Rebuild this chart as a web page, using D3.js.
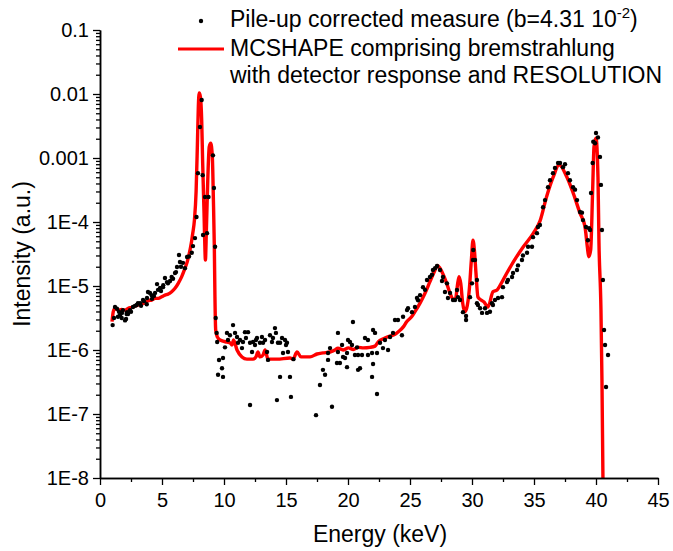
<!DOCTYPE html>
<html>
<head>
<meta charset="utf-8">
<script src="https://cdn.jsdelivr.net/npm/d3@7"></script>
<style>
  body { margin: 0; background: #fff; }
  text { font-family: "Liberation Sans", Arial, sans-serif; fill: #000; }
</style>
</head>
<body>
<div id="chart"></div>
<script>
// axis ticks
const xTicks = [0, 5, 10, 15, 20, 25, 30, 35, 40, 45];
const xMinor = [2.5, 7.5, 12.5, 17.5, 22.5, 27.5, 32.5, 37.5, 42.5];
const yTicks = [1e-1, 1e-2, 1e-3, 1e-4, 1e-5, 1e-6, 1e-7, 1e-8];
const yTickLabels = ["0.1", "0.01", "0.001", "1E-4", "1E-5", "1E-6", "1E-7", "1E-8"];

// MCSHAPE simulation [energy keV, intensity]
const simulated = [
  [0.97,2.77e-6],[1.07,3.97e-6],[1.21,4.5e-6],[1.48,4.2e-6],[1.75,4.3e-6],[2.02,4.2e-6],
  [2.28,4.5e-6],[2.56,4.65e-6],[2.82,4.87e-6],[3.09,5.05e-6],[3.36,5.23e-6],[3.63,5.5e-6],
  [3.9,5.9e-6],[4.17,6.04e-6],[4.44,6.4e-6],[4.7,6.4e-6],[4.98,6.8e-6],[5.24,7.2e-6],
  [5.51,7.5e-6],[5.78,8.15e-6],[6.05,9.2e-6],[6.31,1.1e-5],[6.59,1.4e-5],[6.85,1.89e-5],
  [7.04,2.4e-5],[7.2,3.24e-5],[7.31,4.1e-5],[7.4,5.2e-5],[7.48,6.65e-5],[7.62,1.1e-4],
  [7.75,3e-4],[7.85,1.49e-3],[7.93,6.3e-3],[8.0,1.04e-2],[8.1,9e-3],[8.2,3.9e-3],
  [8.28,8.35e-4],[8.39,1.38e-4],[8.47,3.3e-5],[8.5,2.55e-5],[8.58,7.5e-5],[8.69,4.5e-4],
  [8.81,1.49e-3],[8.93,1.7e-3],[9.06,1.04e-3],[9.14,2.46e-4],[9.22,4.1e-5],[9.27,6.7e-6],
  [9.33,2.05e-6],[9.46,1.6e-6],[9.68,1.43e-6],[10.24,1.33e-6],[10.48,1.3e-6],[10.65,1.2e-6],
  [10.77,1.43e-6],[11.05,1.0e-6],[11.45,7.8e-7],[11.85,7.2e-7],[12.34,7.2e-7],[12.58,7.8e-7],
  [12.74,9.3e-7],[12.9,7.8e-7],[13.15,8.35e-7],[13.31,1.0e-6],[13.55,7.2e-7],[14.27,7.2e-7],
  [15.32,7.5e-7],[15.56,7.2e-7],[15.89,9.3e-7],[16.21,7.8e-7],[16.94,7.8e-7],[17.5,8.66e-7],
  [17.98,9e-7],[18.55,9.3e-7],[18.95,1.0e-6],[19.19,1.07e-6],[19.6,1.0e-6],[20.03,1.08e-6],
  [20.43,1.02e-6],[20.83,1.1e-6],[21.24,1.08e-6],[21.77,1.1e-6],[22.18,1.15e-6],[22.45,1.35e-6],
  [22.85,1.5e-6],[23.39,1.65e-6],[23.79,1.76e-6],[24.06,1.93e-6],[24.46,2.3e-6],[24.73,2.77e-6],
  [25.13,3.3e-6],[25.4,3.97e-6],[25.81,5.4e-6],[26.21,7.7e-6],[26.61,1.17e-5],[27.02,1.78e-5],
  [27.2,2.1e-5],[27.42,1.89e-5],[27.69,1.49e-5],[27.96,1.1e-5],[28.23,7.7e-6],[28.49,6.2e-6],
  [28.68,6.4e-6],[28.81,9.75e-6],[28.95,1.4e-5],[29.09,1.1e-5],[29.25,5.4e-6],[29.41,3.97e-6],
  [29.57,4.5e-6],[29.78,8.7e-6],[29.95,2.55e-5],[30.08,5.2e-5],[30.2,3.5e-5],[30.32,1.6e-5],
  [30.48,6.7e-6],[30.73,6.04e-6],[30.97,5.6e-6],[31.29,4.7e-6],[31.69,8.1e-6],[32.02,8.66e-6],
  [32.3,1.05e-5],[32.8,1.58e-5],[33.6,2.87e-5],[34.14,4.1e-5],[34.94,6.65e-5],[35.48,1.03e-4],
  [36.02,2.5e-4],[36.56,5.1e-4],[37.02,7.8e-4],[37.64,5.1e-4],[38.17,2.8e-4],[38.71,1.37e-4],
  [39.11,8.45e-5],[39.3,4.1e-5],[39.41,2.87e-5],[39.57,3.65e-5],[39.73,3.16e-4],[39.84,1.5e-3],
  [40.0,2.05e-3],[40.16,5e-4],[40.24,4.7e-5],[40.4,4.2e-6],[40.48,3.4e-7],[40.56,1e-8],[40.62,1e-9]
];

// pile-up corrected measure [energy keV, intensity]
const measured = [
  [1.02,2.45e-6],[1.13,3.16e-6],[1.21,4.7e-6],[1.37,4.4e-6],[1.45,3.3e-6],[1.53,3.97e-6],
  [1.61,3.5e-6],[1.75,3.16e-6],[1.77,3.8e-6],[1.85,4.2e-6],[2.02,2.9e-6],[2.1,3.05e-6],
  [2.15,3.65e-6],[2.18,3.9e-6],[2.26,3.65e-6],[2.42,4.2e-6],[2.5,3.97e-6],[2.66,4.7e-6],
  [2.82,4.9e-6],[2.96,5.05e-6],[3.06,5.4e-6],[3.23,5.4e-6],[3.31,4.9e-6],[3.47,6.04e-6],
  [3.55,5.8e-6],[3.77,5.2e-6],[3.79,6.5e-6],[3.87,8.06e-6],[4.03,7.8e-6],[4.17,7.2e-6],
  [4.19,6.3e-6],[4.35,7e-6],[4.44,7.8e-6],[4.6,1.07e-5],[4.68,8.7e-6],[4.84,9.3e-6],
  [4.92,8.35e-6],[5.08,9.6e-6],[5.1,1.03e-5],[5.24,1.33e-5],[5.4,1.15e-5],[5.48,1.1e-5],
  [5.65,1.2e-5],[5.78,1.38e-5],[5.89,1.3e-5],[6.05,1.6e-5],[6.13,1.65e-5],[6.21,1.98e-5],
  [6.37,3.05e-5],[6.45,2.37e-5],[6.53,2e-5],[6.69,2.3e-5],[6.85,1.9e-5],[7.02,2.84e-5],
  [7.18,2.9e-5],[7.4,3.3e-5],[7.5,4.2e-5],[7.66,5.6e-5],[7.78,1.2e-4],[7.9,5.8e-4],
  [8.06,3.05e-3],[8.2,8.06e-3],[8.28,5.4e-4],[8.31,6.25e-5],[8.47,2.46e-4],[8.63,6.7e-5],
  [8.75,2.46e-4],[9.11,1.1e-3],[9.19,3.4e-4],[9.28,4.1e-5],[9.33,3.16e-6],[9.41,1.85e-6],
  [9.45,1.33e-6],[9.52,4.1e-7],[9.6,6.98e-7],[9.84,5.2e-7],[9.92,7.5e-7],[9.92,3.8e-7],
  [10.08,1.1e-6],[10.24,1.85e-6],[10.32,1.43e-6],[10.48,1.7e-6],[10.73,2.45e-6],[10.89,1.85e-6],
  [11.05,1.6e-6],[11.13,1.3e-6],[11.29,1.43e-6],[11.45,1.07e-6],[11.53,1.33e-6],[11.69,1.9e-6],
  [11.77,1.54e-6],[11.94,1.9e-6],[12.1,1.3e-6],[12.1,1.38e-7],[12.26,9.3e-7],[12.34,1.33e-6],
  [12.5,1.2e-6],[12.58,1.43e-6],[12.66,1.54e-6],[12.9,1.3e-6],[13.06,1.6e-6],[13.15,1.3e-6],
  [13.31,1.43e-6],[13.47,9.3e-7],[13.55,7e-7],[13.71,1.7e-6],[13.87,1.33e-6],[13.95,1.54e-6],
  [14.11,2.2e-6],[14.19,1.85e-6],[14.27,1.65e-7],[14.35,1.3e-6],[14.52,1.3e-6],[14.52,3.8e-7],
  [14.68,1.54e-6],[14.76,9e-7],[14.92,1.43e-6],[15.0,1.2e-6],[15.08,1.3e-6],[15.16,9.3e-7],
  [15.32,3.8e-7],[15.4,1.85e-7],[15.6,7.2e-7],[17.42,9.6e-8],[17.74,2.84e-7],[17.98,4.9e-7],
  [18.15,4.1e-7],[18.39,9e-7],[18.39,7e-7],[18.55,1.07e-6],[18.71,1.3e-7],[19.11,6.25e-7],
  [19.19,1.85e-6],[19.19,9.3e-7],[19.35,6.25e-7],[19.52,1.2e-6],[19.6,7.8e-7],[19.76,7.5e-7],
  [19.92,9e-7],[19.92,5.4e-7],[20.0,1.43e-6],[20.16,1.33e-6],[20.32,1.2e-6],[20.4,2.74e-6],
  [20.56,8.35e-7],[20.73,1.1e-6],[20.81,8.35e-7],[20.81,4.9e-7],[20.97,5.2e-7],[21.13,8.35e-7],
  [21.37,1.54e-6],[21.61,1.43e-6],[21.61,8.35e-7],[21.94,9e-7],[21.94,3.8e-7],[22.02,6.04e-7],
  [22.02,2.05e-6],[22.18,1.85e-6],[22.34,9e-7],[22.34,2.05e-7],[22.58,1.3e-6],[22.82,1.07e-6],
  [22.98,1.43e-6],[23.23,1e-6],[23.39,1.6e-6],[23.63,1.85e-6],[23.79,2.94e-6],[24.03,2.94e-6],
  [24.35,1.7e-6],[24.44,3.3e-6],[24.76,4.2e-6],[24.84,4.5e-6],[25.16,3.9e-6],[25.4,4.7e-6],
  [25.56,6.5e-6],[25.65,6e-6],[25.81,7.2e-6],[26.05,9.6e-6],[26.21,8.7e-6],[26.37,1.24e-5],
  [26.61,1.38e-5],[26.77,1.5e-5],[26.85,1.78e-5],[27.02,1.9e-5],[27.18,2.05e-5],[27.42,1.78e-5],
  [27.58,1.2e-5],[27.66,1.38e-5],[27.82,8.06e-6],[27.98,1.1e-5],[28.06,6.5e-6],[28.23,7.8e-6],
  [28.47,6.04e-6],[28.63,6.04e-6],[28.79,8.66e-6],[28.87,6.7e-6],[29.03,6.04e-6],[29.27,3.9e-6],
  [29.52,3.4e-6],[29.52,2.94e-6],[29.84,6.7e-6],[30.0,1.1e-5],[30.08,2.55e-5],[30.1,3.65e-5],
  [30.24,2.55e-5],[30.4,1.24e-5],[30.4,5.4e-6],[30.48,5.05e-6],[30.65,4.5e-6],[30.81,3.8e-6],
  [31.05,4.5e-6],[31.21,3.8e-6],[31.45,3.97e-6],[31.61,5.4e-6],[31.69,5.05e-6],[31.85,6.04e-6],
  [32.1,6.5e-6],[32.42,6.7e-6],[32.5,9.6e-6],[32.82,1.15e-5],[32.9,1.24e-5],[33.23,1.38e-5],
  [33.31,1.6e-5],[33.63,1.78e-5],[33.71,2.1e-5],[34.03,2.55e-5],[34.11,3e-5],[34.44,3.3e-5],
  [34.52,4.1e-5],[34.84,4.1e-5],[34.92,5.8e-5],[35.24,6.7e-5],[35.32,8.35e-5],[35.48,9e-5],
  [35.73,1.7e-4],[35.89,2.2e-4],[36.13,3.5e-4],[36.29,4.5e-4],[36.53,5.8e-4],[36.69,7e-4],
  [36.94,8.35e-4],[37.1,8.35e-4],[37.34,7.2e-4],[37.5,8e-4],[37.74,5.8e-4],[37.9,4.5e-4],
  [38.15,3.5e-4],[38.31,3.2e-4],[38.47,2.2e-4],[38.71,1.43e-4],[38.87,1.4e-4],[38.95,1.07e-4],
  [39.19,8.35e-5],[39.35,5.2e-5],[39.44,8e-5],[39.52,7.5e-5],[39.6,2.84e-4],[39.73,8.35e-4],
  [39.78,1.8e-3],[39.92,1.7e-3],[40.0,2.46e-3],[40.16,2.1e-3],[40.32,1.04e-3],[40.4,3.8e-4],
  [40.48,7.5e-5],[40.56,1.24e-5],[40.65,2.05e-6],[40.73,1.2e-6],[40.81,2.64e-7],[40.97,8.35e-7]
];

const width = 673, height = 551;
const margin = { top: 30, left: 100, right: 15, bottom: 73 };
const iwidth = width - margin.left - margin.right;
const iheight = height - margin.top - margin.bottom;

const svg = d3.select("#chart").append("svg")
  .attr("width", width)
  .attr("height", height);

const g = svg.append("g").attr("transform", `translate(${margin.left},${margin.top})`);

const x = d3.scaleLinear().domain([0, 45]).range([0, iwidth]);
const y = d3.scaleLog().domain([1e-8, 0.1]).range([iheight, 0]);

g.append("clipPath").attr("id", "plotclip")
  .append("rect").attr("x", 0).attr("y", 0).attr("width", iwidth).attr("height", iheight);

// simulated curve
const line = d3.line()
  .x(d => x(d[0]))
  .y(d => y(d[1]))
  .curve(d3.curveMonotoneX);

g.append("path")
  .datum(simulated)
  .attr("clip-path", "url(#plotclip)")
  .attr("fill", "none")
  .attr("stroke", "#ff0000")
  .attr("stroke-width", 3.4)
  .attr("stroke-linejoin", "round")
  .attr("d", line);

// measured points
g.selectAll("circle.meas").data(measured).enter().append("circle")
  .attr("class", "meas")
  .attr("cx", d => x(d[0]))
  .attr("cy", d => y(d[1]))
  .attr("r", 2.2)
  .attr("fill", "#000");

// axes
const yMinor = y.ticks().filter(v => !yTicks.some(t => Math.abs(t - v) / t < 1e-6));

g.append("g")
  .attr("class", "y--minor")
  .call(d3.axisLeft(y).tickValues(yMinor).tickFormat("").tickSize(4).tickSizeOuter(0));

g.append("g")
  .attr("class", "y--axis")
  .call(d3.axisLeft(y).tickValues(yTicks).tickFormat((d, i) => yTickLabels[i]).tickSize(7).tickPadding(4).tickSizeOuter(0));

g.append("g")
  .attr("class", "x--minor")
  .attr("transform", `translate(0, ${iheight})`)
  .call(d3.axisBottom(x).tickValues(xMinor).tickFormat("").tickSize(4).tickSizeOuter(0));

g.append("g")
  .attr("class", "x--axis")
  .attr("transform", `translate(0, ${iheight})`)
  .call(d3.axisBottom(x).tickValues(xTicks).tickSize(7).tickPadding(8).tickSizeOuter(0));

g.selectAll(".domain").attr("stroke", "#000").attr("stroke-width", 1.5);
g.selectAll(".tick line").attr("stroke", "#000").attr("stroke-width", 1.3);
g.selectAll(".tick text")
  .style("font-family", '"Liberation Sans", Arial, sans-serif')
  .style("font-size", "20px")
  .attr("fill", "#000");

// axis titles
svg.append("text")
  .attr("transform", "translate(30, 254) rotate(-90)")
  .attr("text-anchor", "middle")
  .style("font-size", "23px")
  .text("Intensity (a.u.)");

svg.append("text")
  .attr("x", 380)
  .attr("y", 542)
  .attr("text-anchor", "middle")
  .style("font-size", "23px")
  .text("Energy (keV)");

// legend
const legend = svg.append("g");
legend.append("circle").attr("cx", 201).attr("cy", 21).attr("r", 2.2).attr("fill", "#000");
legend.append("line")
  .attr("x1", 178).attr("x2", 224).attr("y1", 49).attr("y2", 49)
  .attr("stroke", "#ff0000").attr("stroke-width", 3);

const t1 = legend.append("text").attr("x", 230).attr("y", 27).style("font-size", "23px");
t1.append("tspan").text("Pile-up corrected measure (b=4.31 10");
t1.append("tspan").attr("dy", -9).style("font-size", "15px").text("-2");
t1.append("tspan").attr("dy", 9).text(")");

legend.append("text").attr("x", 230).attr("y", 56).style("font-size", "23px")
  .text("MCSHAPE comprising bremstrahlung");
legend.append("text").attr("x", 230).attr("y", 83).style("font-size", "23px")
  .text("with detector response and RESOLUTION");
</script>
</body>
</html>
